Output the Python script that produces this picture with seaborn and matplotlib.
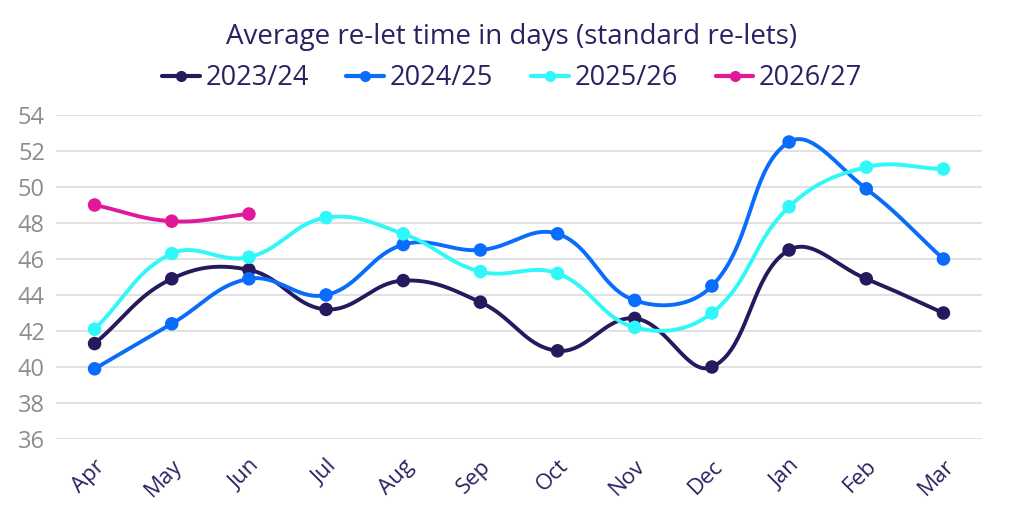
import numpy as np
import pandas as pd
import matplotlib
matplotlib.use("Agg")
import matplotlib.pyplot as plt
import seaborn as sns
from matplotlib.lines import Line2D

months = ["Apr", "May", "Jun", "Jul", "Aug", "Sep", "Oct", "Nov", "Dec", "Jan", "Feb", "Mar"]
s2023 = [41.3, 44.9, 45.4, 43.2, 44.8, 43.6, 40.9, 42.7, 40.0, 46.5, 44.9, 43.0]
s2024 = [39.9, 42.4, 44.9, 44.0, 46.8, 46.5, 47.4, 43.7, 44.5, 52.5, 49.9, 46.0]
s2025 = [42.1, 46.3, 46.1, 48.3, 47.4, 45.3, 45.2, 42.2, 43.0, 48.9, 51.1, 51.0]
s2026 = [49.0, 48.1, 48.5]
series_names = ["2023/24", "2024/25", "2025/26", "2026/27"]
yticks = [36, 38, 40, 42, 44, 46, 48, 50, 52, 54]

colors = {"2023/24": "#251a5e", "2024/25": "#0a6cfb", "2025/26": "#30f8f8", "2026/27": "#e2189a"}
text_color = "#2b2160"

sns.set_theme(style="white")
plt.rcParams["font.family"] = ["Open Sans", "DejaVu Sans"]

fig = plt.figure(figsize=(10.24, 5.12), dpi=100)
ax = fig.add_axes([56 / 1024, 1 - 439 / 512, (982 - 56) / 1024, (439 - 115) / 512])

XS, YS = 77.2, 18.0  # pixel scale for spline tension


def smooth(vals, tension=0.4, n=40):
    x = np.arange(len(vals), dtype=float)
    y = np.array(vals, dtype=float)
    px, py = x * XS, y * YS
    m = len(vals)
    cin = []
    cout = []
    for i in range(m):
        p = np.array([px[i], py[i]])
        prev = np.array([px[max(i - 1, 0)], py[max(i - 1, 0)]])
        nxt = np.array([px[min(i + 1, m - 1)], py[min(i + 1, m - 1)]])
        d01 = np.hypot(*(p - prev))
        d12 = np.hypot(*(nxt - p))
        tot = d01 + d12
        s01 = d01 / tot if tot else 0
        s12 = d12 / tot if tot else 0
        fa, fb = tension * s01, tension * s12
        cin.append(p - fa * (nxt - prev))
        cout.append(p + fb * (nxt - prev))
    xs, ys = [], []
    t = np.linspace(0, 1, n)
    for i in range(m - 1):
        p0 = np.array([px[i], py[i]])
        p3 = np.array([px[i + 1], py[i + 1]])
        p1, p2 = cout[i], cin[i + 1]
        b = ((1 - t) ** 3)[:, None] * p0 + (3 * (1 - t) ** 2 * t)[:, None] * p1 \
            + (3 * (1 - t) * t ** 2)[:, None] * p2 + (t ** 3)[:, None] * p3
        if i > 0:
            b = b[1:]
        xs.extend(b[:, 0] / XS)
        ys.extend(b[:, 1] / YS)
    return np.array(xs), np.array(ys)


all_series = [s2023, s2024, s2025, s2026]
for name, vals in zip(series_names, all_series):
    sx, sy = smooth(vals)
    curve = pd.DataFrame({"x": sx, "y": sy})
    sns.lineplot(data=curve, x="x", y="y", ax=ax, color=colors[name], lw=2.8,
                 sort=False, estimator=None, zorder=2)
    pts = pd.DataFrame({"x": np.arange(len(vals)), "y": vals})
    sns.scatterplot(data=pts, x="x", y="y", ax=ax, color=colors[name], s=95,
                    edgecolor="none", zorder=3)

ax.set_xlim(-0.5, 11.5)
ax.set_ylim(36, 54)
ax.set_yticks(yticks)
ax.set_yticklabels([str(v) for v in yticks], color="#8c8c8c", fontsize=17)
ax.set_xticks(range(len(months)))
ax.set_xticklabels(months, rotation=45, ha="right", rotation_mode="anchor",
                   color=text_color, fontsize=16)
ax.tick_params(axis="x", pad=12, length=0)
ax.tick_params(axis="y", pad=8, length=0)
ax.set_xlabel("")
ax.set_ylabel("")
ax.grid(axis="y", color="#dcdcdc", lw=1.2)
ax.grid(axis="x", visible=False)
for s in ax.spines.values():
    s.set_visible(False)

fig.text(0.5, 1 - 37 / 512, "Average re-let time in days (standard re-lets)",
         ha="center", va="center", fontsize=20, color=text_color)

handles = [Line2D([0], [0], color=colors[n], lw=3, marker="o", markersize=7) for n in series_names]
fig.legend(handles, series_names, loc="center", bbox_to_anchor=(0.5, 1 - 78 / 512),
           ncol=4, frameon=False, fontsize=19.5, handlelength=1.4, handletextpad=0.2,
           columnspacing=1.4, labelcolor=text_color)

fig.savefig("out.png", dpi=100)
